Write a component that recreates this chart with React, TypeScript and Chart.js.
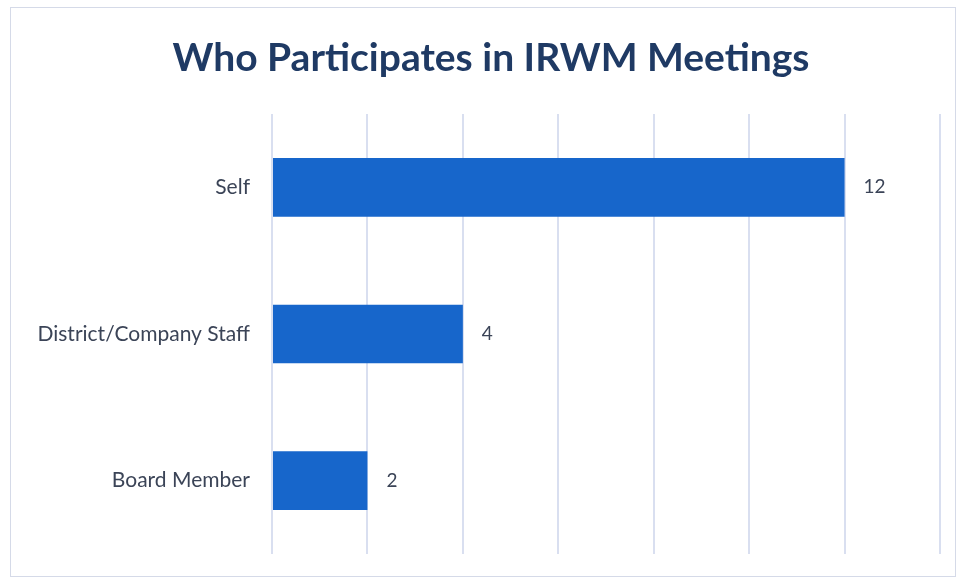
import React, { useEffect, useRef } from "react";
import { Chart, registerables } from "chart.js";

Chart.register(...registerables);

const titleText = "Who Participates in IRWM Meetings";
const categories = ["Self", "District/Company Staff", "Board Member"];
const values = [12, 4, 2];
const xMax = 14;
const xStep = 2;

const FONT = "Lato, 'Open Sans', sans-serif";

const valueLabels = {
  id: "valueLabels",
  afterDatasetsDraw(chart: any) {
    const ctx = chart.ctx;
    const meta = chart.getDatasetMeta(0);
    ctx.save();
    ctx.fillStyle = "#3b4457";
    ctx.font = `19px ${FONT}`;
    ctx.textAlign = "left";
    ctx.textBaseline = "middle";
    meta.data.forEach((bar: any, i: number) => {
      ctx.fillText(String(values[i]), bar.x + 19, bar.y);
    });
    ctx.restore();
  },
};

const titlePlugin = {
  id: "customTitle",
  afterDraw(chart: any) {
    const ctx = chart.ctx;
    ctx.save();
    ctx.fillStyle = "#1f3a64";
    ctx.font = `bold 39px ${FONT}`;
    ctx.textAlign = "center";
    ctx.textBaseline = "middle";
    ctx.fillText(titleText, 491, 58);
    ctx.restore();
  },
};

export default function App() {
  const ref = useRef<HTMLCanvasElement>(null);
  useEffect(() => {
    if (!ref.current) return;
    const chart = new Chart(ref.current, {
      type: "bar",
      data: {
        labels: categories,
        datasets: [
          {
            data: values,
            backgroundColor: "#1766cb",
            borderWidth: 0,
            barPercentage: 0.8,
            categoryPercentage: 0.5,
          },
        ],
      },
      plugins: [valueLabels, titlePlugin],
      options: {
        indexAxis: "y",
        animation: false,
        responsive: false,
        layout: { padding: { left: 10, right: 20, top: 114, bottom: 26 } },
        plugins: {
          legend: { display: false },
          tooltip: { enabled: false },
          title: { display: false },
        },
        scales: {
          x: {
            min: 0,
            max: xMax,
            afterFit: (s: any) => {
              s.height = 0;
              s.paddingLeft = 0;
              s.paddingRight = 0;
            },
            ticks: { display: false, stepSize: xStep },
            grid: { color: "#d9dff0", lineWidth: 2, drawTicks: false },
            border: { display: false },
          },
          y: {
            afterFit: (s: any) => {
              s.width = 262;
              s.paddingTop = 0;
              s.paddingBottom = 0;
            },
            ticks: {
              color: "#3b4457",
              font: { family: FONT, size: 21 },
              padding: 22,
            },
            grid: { display: false, drawTicks: false },
            border: { display: false },
          },
        },
      },
    });
    return () => chart.destroy();
  }, []);
  return (
    <div style={{ position: "fixed", left: 0, top: 0, width: 960, height: 580, background: "#fff" }}>
      <div
        style={{
          position: "absolute",
          left: 10,
          top: 7,
          width: 946,
          height: 570,
          border: "1px solid #d5dae8",
          boxSizing: "border-box",
        }}
      />
      <canvas ref={ref} width={960} height={580} style={{ position: "absolute", left: 0, top: 0 }} />
    </div>
  );
}
